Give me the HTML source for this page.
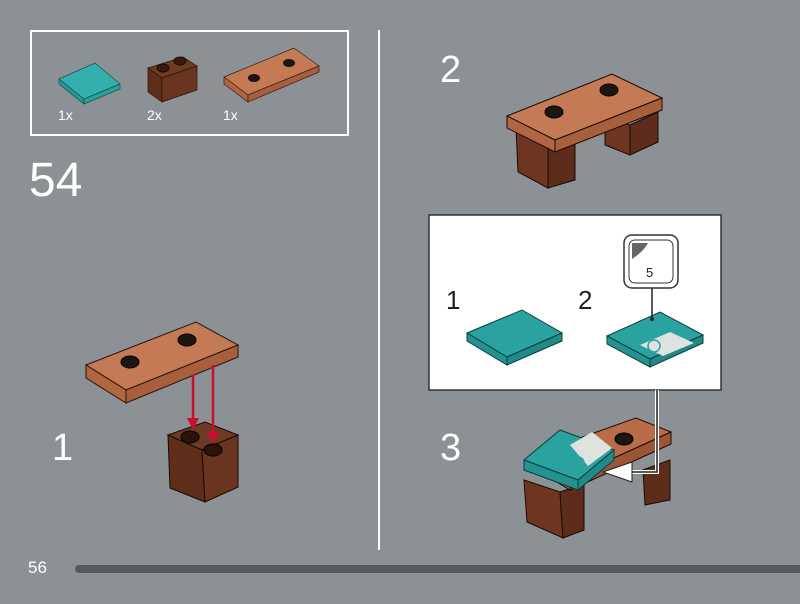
<!DOCTYPE html>
<html><head><meta charset="utf-8"><style>
html,body{margin:0;padding:0;background:#8b9195;}
svg{display:block}
text{font-family:"Liberation Sans",sans-serif;}
</style></head><body>
<svg width="800" height="604" viewBox="0 0 800 604" xmlns="http://www.w3.org/2000/svg">
<rect width="800" height="604" fill="#8b9195"/>
<!-- parts box -->
<rect x="31" y="31" width="317" height="104" fill="none" stroke="#fff" stroke-width="2"/>
<!-- teal tile -->
<polygon points="59,79 95,63 120,84 84,99" fill="#33b0ae" stroke="#1d4c4c" stroke-width="0.7"/>
<polygon points="59,79 84,99 84,104 59,84" fill="#269996" stroke="#1d4c4c" stroke-width="0.7"/>
<polygon points="84,99 120,84 120,89 84,104" fill="#2a9f9c" stroke="#1d4c4c" stroke-width="0.7"/>
<!-- small brick -->
<polygon points="148,68 183,57 197,66 162,78" fill="#6e3a24" stroke="#2a1208" stroke-width="0.7"/>
<polygon points="148,68 162,78 162,102 148,92" fill="#5e2e1b" stroke="#2a1208" stroke-width="0.7"/>
<polygon points="162,78 197,66 197,90 162,102" fill="#6a3520" stroke="#2a1208" stroke-width="0.7"/>
<ellipse cx="163" cy="68" rx="6" ry="4" fill="#3a1a0e" stroke="#1a0a04"/><ellipse cx="180" cy="61" rx="6" ry="4" fill="#3a1a0e" stroke="#1a0a04"/>
<!-- plate -->
<polygon points="224,77 294,48 319,66 248,95" fill="#c47a54" stroke="#3b1c0e" stroke-width="0.7"/>
<polygon points="224,77 248,95 248,102 224,84" fill="#b06642" stroke="#3b1c0e" stroke-width="0.7"/>
<polygon points="248,95 319,66 319,72 248,102" fill="#a85f3d" stroke="#3b1c0e" stroke-width="0.7"/>
<ellipse cx="254" cy="78" rx="6" ry="4" fill="#1e1410"/><ellipse cx="289" cy="63" rx="6" ry="4" fill="#1e1410"/>
<text x="58" y="120" font-size="14" fill="#fff">1x</text>
<text x="147" y="120" font-size="14" fill="#fff">2x</text>
<text x="223" y="120" font-size="14" fill="#fff">1x</text>
<text x="29" y="196" font-size="48" fill="#fff">54</text>
<!-- divider -->
<line x1="379" y1="30" x2="379" y2="550" stroke="#fff" stroke-width="2"/>
<!-- step1 -->
<polygon points="86,365 196,322 238,345 126,390" fill="#c47a54" stroke="#2a150a" stroke-width="1"/>
<polygon points="86,365 126,390 126,403 86,378" fill="#b06642" stroke="#2a150a" stroke-width="1"/>
<polygon points="126,390 238,345 238,357 126,403" fill="#a85f3d" stroke="#2a150a" stroke-width="1"/>
<ellipse cx="130" cy="362" rx="9" ry="6" fill="#1e1410" stroke="#000"/><ellipse cx="187" cy="340" rx="9" ry="6" fill="#1e1410" stroke="#000"/>
<polygon points="168,435 205,422 238,435 202,450" fill="#6e3a24" stroke="#1a0a04" stroke-width="1"/>
<polygon points="168,435 202,450 205,502 170,488" fill="#5e2e1b" stroke="#1a0a04" stroke-width="1"/>
<polygon points="202,450 238,435 238,487 205,502" fill="#6a3520" stroke="#1a0a04" stroke-width="1"/>
<ellipse cx="190" cy="437" rx="9" ry="6" fill="#2a140a" stroke="#000"/><ellipse cx="213" cy="450" rx="9" ry="6" fill="#2a140a" stroke="#000"/>
<g stroke="#c8102e" stroke-width="2.5" fill="#c8102e">
<line x1="193" y1="375" x2="193" y2="420"/><polygon points="187,418 199,418 193,430" stroke="none"/>
<line x1="213" y1="365" x2="213" y2="435"/><polygon points="207,432 219,432 213,444" stroke="none"/>
</g>
<text x="52" y="460" font-size="38" fill="#fff">1</text>
<!-- step2 -->
<text x="440" y="82" font-size="38" fill="#fff">2</text>
<polygon points="516,128 548,140 548,188 518,172" fill="#6e3520" stroke="#1a0a04"/>
<polygon points="548,140 575,132 575,180 548,188" fill="#5e2c1a" stroke="#1a0a04"/>
<polygon points="605,118 630,125 630,155 605,145" fill="#6e3520" stroke="#1a0a04"/>
<polygon points="630,125 658,112 658,142 630,155" fill="#5e2c1a" stroke="#1a0a04"/>
<polygon points="507,116 612,74 662,98 555,140" fill="#c47a54" stroke="#1a0a04"/>
<polygon points="507,116 555,140 555,152 507,128" fill="#b06642" stroke="#1a0a04"/>
<polygon points="555,140 662,98 662,110 555,152" fill="#a85f3d" stroke="#1a0a04"/>
<ellipse cx="554" cy="112" rx="9" ry="6" fill="#1e1410" stroke="#000"/><ellipse cx="609" cy="90" rx="9" ry="6" fill="#1e1410" stroke="#000"/>
<!-- step3 sub box -->
<rect x="429" y="215" width="292" height="175" fill="#fff" stroke="#333" stroke-width="1.5"/>
<text x="446" y="309" font-size="26" fill="#222">1</text>
<text x="578" y="309" font-size="26" fill="#222">2</text>
<polygon points="467,333 522,310 562,333 507,357" fill="#2aa3a0" stroke="#0e3c3c"/>
<polygon points="467,333 507,357 507,365 467,341" fill="#24928f" stroke="#0e3c3c"/>
<polygon points="507,357 562,333 562,341 507,365" fill="#1f8a87" stroke="#0e3c3c"/>
<polygon points="607,336 660,312 703,335 650,359" fill="#2aa3a0" stroke="#0e3c3c"/>
<polygon points="607,336 650,359 650,367 607,344" fill="#24928f" stroke="#0e3c3c"/>
<polygon points="650,359 703,335 703,343 650,367" fill="#1f8a87" stroke="#0e3c3c"/>
<polygon points="640,345 670,332 694,343 663,356" fill="#dfe3e0"/>
<circle cx="654" cy="346" r="6" fill="none" stroke="#2aa3a0" stroke-width="1.5"/>
<rect x="624" y="235" width="54" height="53" rx="8" fill="#fff" stroke="#333" stroke-width="1.5"/>
<rect x="629" y="240" width="44" height="43" rx="6" fill="#fff" stroke="#333" stroke-width="1"/>
<path d="M632,243 h16 q-4,8 -16,16z" fill="#666"/>
<text x="646" y="277" font-size="13" fill="#222">5</text>
<line x1="652" y1="288" x2="652" y2="318" stroke="#222" stroke-width="1.5"/>
<circle cx="652" cy="319" r="2" fill="#222"/>
<!-- step3 -->
<text x="440" y="460" font-size="38" fill="#fff">3</text>
<polygon points="524,480 560,492 563,538 527,522" fill="#6e3520" stroke="#1a0a04"/>
<polygon points="560,492 584,484 584,530 563,538" fill="#5e2c1a" stroke="#1a0a04"/>
<polygon points="643,470 670,460 670,500 645,505" fill="#5e2c1a" stroke="#1a0a04"/>
<polygon points="532,455 636,418 671,432 570,478" fill="#b86c48" stroke="#1a0a04"/>
<polygon points="532,455 570,478 570,490 532,467" fill="#a85f3d" stroke="#1a0a04"/>
<polygon points="570,478 671,432 671,444 570,490" fill="#9c5636" stroke="#1a0a04"/>
<ellipse cx="624" cy="439" rx="9" ry="6" fill="#1e1410" stroke="#000"/>
<polygon points="524,460 560,430 614,450 578,480" fill="#2aa3a0" stroke="#0e3c3c"/>
<polygon points="524,460 578,480 578,490 524,470" fill="#24928f" stroke="#0e3c3c"/>
<polygon points="578,480 614,450 614,460 578,490" fill="#1f8a87" stroke="#0e3c3c"/>
<polygon points="570,445 592,432 612,448 588,466" fill="#dfe3e0"/>
<circle cx="578" cy="463" r="6" fill="none" stroke="#2aa3a0" stroke-width="1.5"/>
<polyline points="657,390 657,472 625,472" fill="none" stroke="#fff" stroke-width="4"/>
<polyline points="657,390 657,472 625,472" fill="none" stroke="#222" stroke-width="1.5"/>
<polygon points="603,472 632,462 632,482" fill="#fff" stroke="#222"/>
<!-- footer -->
<text x="28" y="573" font-size="17" fill="#fff">56</text>
<rect x="75" y="565" width="735" height="8" rx="4" fill="#555a5e"/>
</svg>
</body></html>
